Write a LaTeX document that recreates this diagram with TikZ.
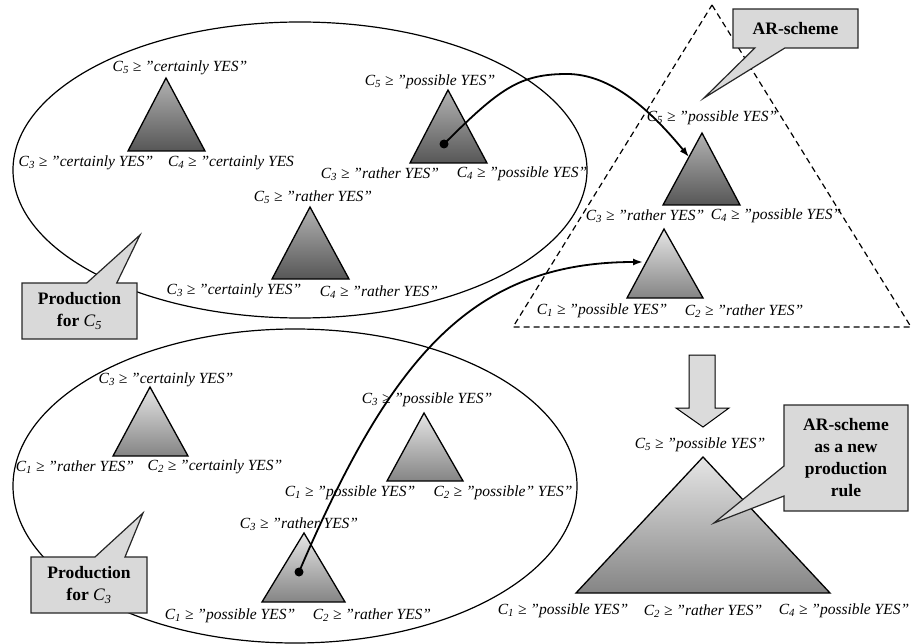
\documentclass[tikz,border=0pt]{standalone}
\usepackage{fontspec}
\setmainfont{Liberation Serif}
\usetikzlibrary{shapes.callouts,arrows.meta}

\newcommand{\csub}[1]{C\textsubscript{#1}}

\tikzset{
  lbl/.style={font=\itshape\fontsize{15.5}{15.5}\selectfont, inner sep=0pt},
  darktri/.style={top color=black!30, bottom color=black!66, draw=black, line width=1.3pt},
  lighttri/.style={top color=black!10, bottom color=black!48, draw=black, line width=1.3pt},
  callbox/.style={rectangle callout, fill=black!15, draw=black!85, line width=1.2pt,
    font=\bfseries\fontsize{17.5}{22}\selectfont, align=center, inner sep=2pt,
    callout pointer width=30pt},
  arr/.style={-{Latex[length=10pt,width=7pt]}, line width=1.8pt}
}

\begin{document}
\begin{tikzpicture}[x=1pt,y=-1pt]
            \useasboundingbox (0,0) rectangle (912,644);

            \draw[line width=1.2pt] (300,170) ellipse [x radius=287, y radius=148];
            \draw[line width=1.2pt] (295,486) ellipse [x radius=282, y radius=157];

            \draw[dashed, dash pattern=on 6pt off 4pt, line width=1.2pt]
            (712,5) -- (911,327) -- (513,327) -- cycle;

            % production for C5
            \draw[darktri] (166,78) -- (205,151) -- (128,151) -- cycle;
            \draw[darktri] (448,90) -- (487,163) -- (410,163) -- cycle;
            \draw[darktri] (310,207) -- (349,279) -- (272,279) -- cycle;

            \node[lbl] (a1) at (180,68) {\csub{5} ≥ ”certainly YES”};
            \node[lbl] (a2) at (86,163) {\csub{3} ≥ ”certainly YES”};
            \node[lbl] (a3) at (231,163) {\csub{4} ≥ ”certainly YES};
            \node[lbl] (b1) at (430,82) {\csub{5} ≥ ”possible YES”};
            \node[lbl] (b2) at (380,174) {\csub{3} ≥ ”rather YES”};
            \node[lbl] (b3) at (522,174) {\csub{4} ≥ ”possible YES”};
            \node[lbl] (c1) at (313,197) {\csub{5} ≥ ”rather YES”};
            \node[lbl] (c2) at (234,291) {\csub{3} ≥ ”certainly YES”};
            \node[lbl] (c3) at (379,292) {\csub{4} ≥ ”rather YES”};

            % production for C3
            \draw[lighttri] (150,387) -- (188,456) -- (113,456) -- cycle;
            \draw[lighttri] (424,413) -- (463,481) -- (387,481) -- cycle;
            \draw[lighttri] (304,533) -- (345,602) -- (262,602) -- cycle;

            \node[lbl] (d1) at (166,380) {\csub{3} ≥ ”certainly YES”};
            \node[lbl] (d2) at (75,467) {\csub{1} ≥ ”rather YES”};
            \node[lbl] (d3) at (215,467) {\csub{2} ≥ ”certainly YES”};
            \node[lbl] (e1) at (427,400) {\csub{3} ≥ ”possible YES”};
            \node[lbl] (e2) at (350,493) {\csub{1} ≥ ”possible YES”};
            \node[lbl] (e3) at (503,493) {\csub{2} ≥ ”possible” YES”};
            \node[lbl] (f1) at (299,524) {\csub{3} ≥ ”rather YES”};
            \node[lbl] (f2) at (230,616) {\csub{1} ≥ ”possible YES”};
            \node[lbl] (f3) at (372,615) {\csub{2} ≥ ”rather YES”};

            % AR-scheme
            \draw[darktri] (702,133) -- (740,205) -- (663,205) -- cycle;
            \draw[lighttri] (664,229) -- (703,298) -- (627,298) -- cycle;

            \node[lbl] (g1) at (712,118) {\csub{5} ≥ ”possible YES”};
            \node[lbl] (g2) at (645,216) {\csub{3} ≥ ”rather YES”};
            \node[lbl] (g3) at (776,216) {\csub{4} ≥ ”possible YES”};
            \node[lbl] (h1) at (602,311) {\csub{1} ≥ ”possible YES”};
            \node[lbl] (h2) at (744,311) {\csub{2} ≥ ”rather YES”};

            % new production rule
            \draw[fill=black!14, line width=1pt]
            (689,355) -- (715,355) -- (715,408) -- (729,408) -- (703,427)
            -- (676,408) -- (689,408) -- cycle;

            \draw[lighttri] (703,457) -- (830,593) -- (576,593) -- cycle;

            \node[lbl] (k1) at (700,445) {\csub{5} ≥ ”possible YES”};
            \node[lbl] (k2) at (563,611) {\csub{1} ≥ ”possible YES”};
            \node[lbl] (k3) at (703,611) {\csub{2} ≥ ”rather YES”};
            \node[lbl] (k4) at (844,611) {\csub{4} ≥ ”possible YES”};

            % arrows
            \coordinate (s1) at (444,144);
            \coordinate (t1) at (689,157);
            \coordinate (s2) at (299,572);
            \coordinate (t2) at (643,262);
            \fill (s1) circle (4.5);
            \fill (s2) circle (4.5);
            \draw[arr] (s1) .. controls (500,88) and (520,74) .. (567,74)
            .. controls (612,74) and (652,112) .. (t1);
            \draw[arr] (s2) .. controls (390,360) and (470,262) .. (t2);

            % callouts
            \node[callbox, minimum width=115pt, minimum height=56pt,
            callout absolute pointer={(140,235)}] (p5) at (79.5,311)
            {Production\\for \textit{\mdseries\csub{5}}};
            \node[callbox, minimum width=116pt, minimum height=56pt,
            callout absolute pointer={(143,513)}] (p3) at (89,585)
            {Production\\for \textit{\mdseries\csub{3}}};
            \node[callbox, minimum width=125pt, minimum height=39pt,
            callout absolute pointer={(704,98)}] (ar) at (795.5,28.5)
            {AR-scheme};
            \node[callbox, minimum width=124pt, minimum height=106pt,
            callout absolute pointer={(714,523)}] (nr) at (846,458)
            {AR-scheme\\as a new\\production\\rule};
        \end{tikzpicture}
\end{document}
